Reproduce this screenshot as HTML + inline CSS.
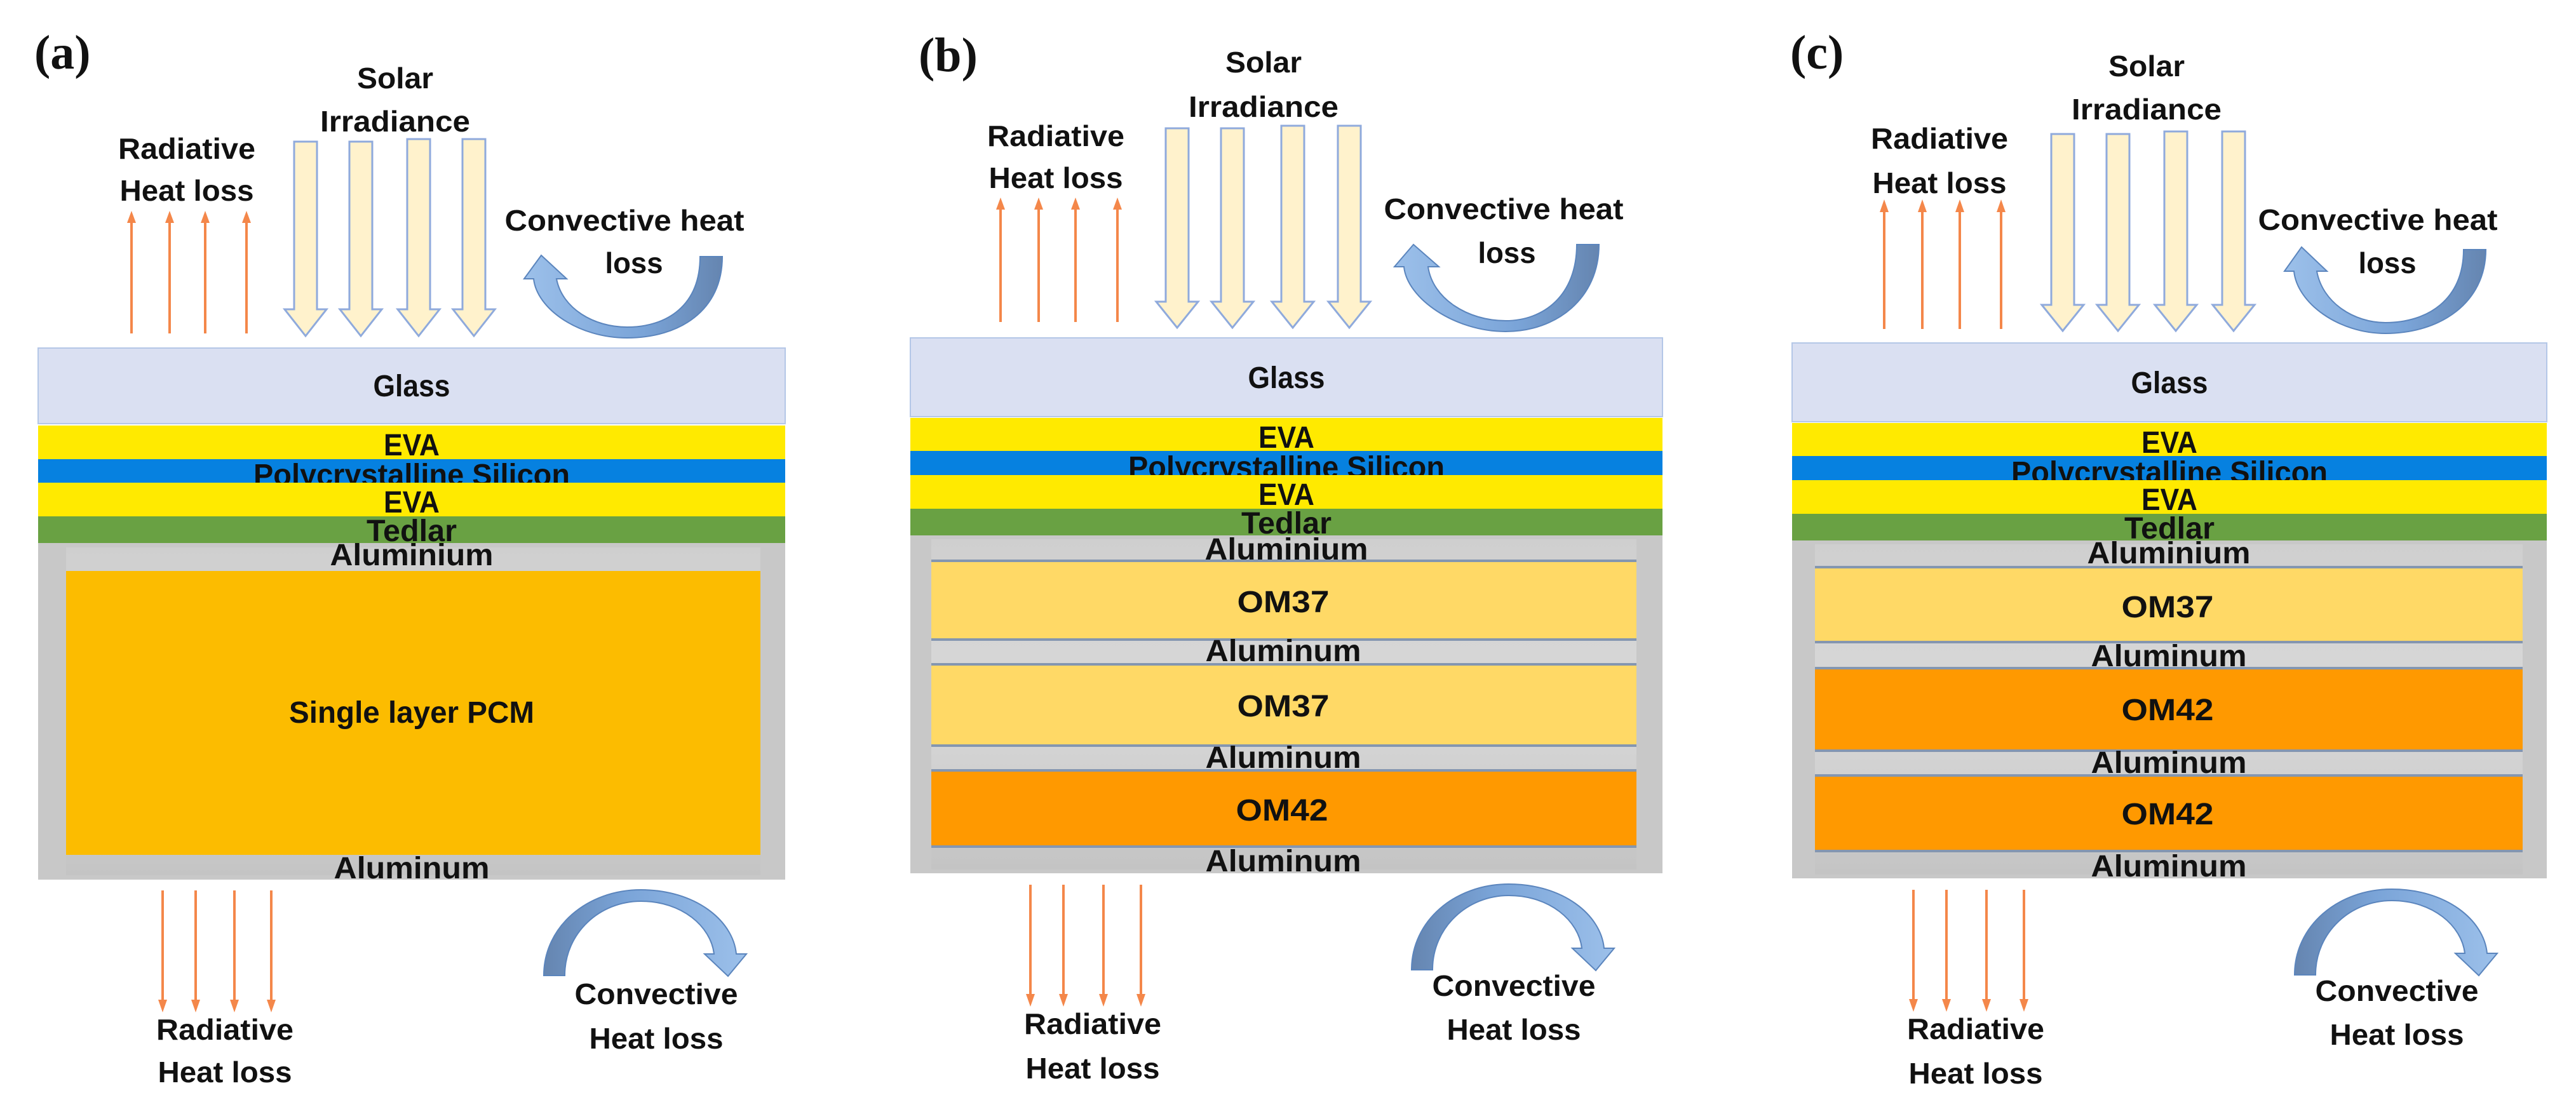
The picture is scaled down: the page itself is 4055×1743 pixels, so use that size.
<!DOCTYPE html>
<html><head><meta charset="utf-8"><style>
html,body{margin:0;padding:0;background:#fff}
svg{display:block}
text{font-family:"Liberation Sans Narrow","Liberation Sans",sans-serif;font-weight:bold;fill:#111}
.lab{font-size:46px}
.ly{font-size:48px}
.pl{font-family:"Liberation Serif",serif;font-size:76px;font-weight:bold}
.sep{stroke:#8496b0;stroke-width:4}
</style></head><body>
<svg width="4055" height="1743" viewBox="0 0 4055 1743" xmlns="http://www.w3.org/2000/svg">
<defs>
<linearGradient id="cu" x1="0" x2="1" y1="0" y2="0"><stop offset="0" stop-color="#9cc0ea"/><stop offset="0.6" stop-color="#7aa4d8"/><stop offset="1" stop-color="#6585b0"/></linearGradient>
<linearGradient id="cd" x1="0" x2="1" y1="0" y2="0"><stop offset="0" stop-color="#6585b0"/><stop offset="0.4" stop-color="#7aa4d8"/><stop offset="1" stop-color="#9cc0ea"/></linearGradient>
<linearGradient id="gr" x1="0" x2="0" y1="0" y2="1"><stop offset="0" stop-color="#cfcfcf"/><stop offset="0.5" stop-color="#d9d9d9"/><stop offset="1" stop-color="#c4c4c4"/></linearGradient>
</defs>

<g id="topb">
<text class="pl" x="1446" y="112">(b)</text>
<text class="lab" x="1989" y="114" text-anchor="middle" textLength="120" lengthAdjust="spacingAndGlyphs">Solar</text>
<text class="lab" x="1989" y="184" text-anchor="middle" textLength="236" lengthAdjust="spacingAndGlyphs">Irradiance</text>
<text class="lab" x="1662" y="230" text-anchor="middle" textLength="216" lengthAdjust="spacingAndGlyphs">Radiative</text>
<text class="lab" x="1662" y="296" text-anchor="middle" textLength="211" lengthAdjust="spacingAndGlyphs">Heat loss</text>
<text class="lab" x="2367" y="345" text-anchor="middle" textLength="377" lengthAdjust="spacingAndGlyphs">Convective heat</text>
<text class="lab" x="2372" y="414" text-anchor="middle" textLength="91" lengthAdjust="spacingAndGlyphs">loss</text>
<g stroke="#f4874a" stroke-width="4" fill="#f4874a">
<line x1="1575" y1="507" x2="1575" y2="325"/><polygon points="1568,330 1582,330 1575,311" stroke="none"/>
<line x1="1635" y1="507" x2="1635" y2="325"/><polygon points="1628,330 1642,330 1635,311" stroke="none"/>
<line x1="1693" y1="507" x2="1693" y2="325"/><polygon points="1686,330 1700,330 1693,311" stroke="none"/>
<line x1="1759" y1="507" x2="1759" y2="325"/><polygon points="1752,330 1766,330 1759,311" stroke="none"/>
</g>
<g fill="#fff2cc" stroke="#8faadc" stroke-width="3">
<polygon points="1835,202 1871,202 1871,475 1886,475 1853,516 1820,475 1835,475"/>
<polygon points="1922,202 1958,202 1958,475 1973,475 1940,516 1907,475 1922,475"/>
<polygon points="2017,198 2053,198 2053,475 2068,475 2035,516 2002,475 2017,475"/>
<polygon points="2106,198 2142,198 2142,475 2157,475 2124,516 2091,475 2106,475"/>
</g>
<path d="M2482,385 L2517,385 C2517,470 2450,522 2370,522 C2290,522 2215,470 2210,420 L2195,420 L2225,385 L2265,420 L2248,420 C2255,470 2310,505 2370,505 C2430,505 2482,465 2482,385 Z" fill="url(#cu)" stroke="#5b85bd" stroke-width="2"/>
</g>

<g id="botb">
<g stroke="#f4874a" stroke-width="4" fill="#f4874a">
<line x1="1622" y1="1393" x2="1622" y2="1570"/><polygon points="1615,1565 1629,1565 1622,1585" stroke="none"/>
<line x1="1674" y1="1393" x2="1674" y2="1570"/><polygon points="1667,1565 1681,1565 1674,1585" stroke="none"/>
<line x1="1737" y1="1393" x2="1737" y2="1570"/><polygon points="1730,1565 1744,1565 1737,1585" stroke="none"/>
<line x1="1796" y1="1393" x2="1796" y2="1570"/><polygon points="1789,1565 1803,1565 1796,1585" stroke="none"/>
</g>
<path d="M2222,1527 L2255,1527 C2255,1460 2310,1410 2375,1410 C2440,1410 2485,1450 2490,1493 L2475,1493 L2512,1528 L2541,1493 L2525,1493 C2520,1440 2460,1392 2375,1392 C2290,1392 2222,1450 2222,1527 Z" fill="url(#cd)" stroke="#5b85bd" stroke-width="2"/>
<text class="lab" x="1720" y="1628" text-anchor="middle" textLength="216" lengthAdjust="spacingAndGlyphs">Radiative</text>
<text class="lab" x="1720" y="1698" text-anchor="middle" textLength="211" lengthAdjust="spacingAndGlyphs">Heat loss</text>
<text class="lab" x="2383" y="1568" text-anchor="middle" textLength="257" lengthAdjust="spacingAndGlyphs">Convective</text>
<text class="lab" x="2383" y="1637" text-anchor="middle" textLength="211" lengthAdjust="spacingAndGlyphs">Heat loss</text>
</g>

<g transform="translate(-1370,21)">
<text class="pl" x="1424" y="87">(a)</text>
<text class="lab" x="1992" y="118" text-anchor="middle" textLength="120" lengthAdjust="spacingAndGlyphs">Solar</text>
<text class="lab" x="1992" y="186" text-anchor="middle" textLength="236" lengthAdjust="spacingAndGlyphs">Irradiance</text>
<text class="lab" x="1664" y="229" text-anchor="middle" textLength="216" lengthAdjust="spacingAndGlyphs">Radiative</text>
<text class="lab" x="1664" y="295" text-anchor="middle" textLength="211" lengthAdjust="spacingAndGlyphs">Heat loss</text>
<text class="lab" x="2353" y="342" text-anchor="middle" textLength="377" lengthAdjust="spacingAndGlyphs">Convective heat</text>
<text class="lab" x="2368" y="409" text-anchor="middle" textLength="91" lengthAdjust="spacingAndGlyphs">loss</text>
<g stroke="#f4874a" stroke-width="4" fill="#f4874a">
<line x1="1577" y1="504" x2="1577" y2="325"/><polygon points="1570,330 1584,330 1577,311" stroke="none"/>
<line x1="1637" y1="504" x2="1637" y2="325"/><polygon points="1630,330 1644,330 1637,311" stroke="none"/>
<line x1="1693" y1="504" x2="1693" y2="325"/><polygon points="1686,330 1700,330 1693,311" stroke="none"/>
<line x1="1758" y1="504" x2="1758" y2="325"/><polygon points="1751,330 1765,330 1758,311" stroke="none"/>
</g>
<g fill="#fff2cc" stroke="#8faadc" stroke-width="3">
<polygon points="1833,202 1869,202 1869,466 1884,466 1851,508 1818,466 1833,466"/>
<polygon points="1920,202 1956,202 1956,466 1971,466 1938,508 1905,466 1920,466"/>
<polygon points="2011,198 2047,198 2047,466 2062,466 2029,508 1996,466 2011,466"/>
<polygon points="2098,198 2134,198 2134,466 2149,466 2116,508 2083,466 2098,466"/>
</g>
<path d="M2472,383 L2507,383 C2507,468 2440,511 2357,511 C2280,511 2215,465 2210,418 L2195,418 L2222,381 L2262,418 L2246,418 C2255,465 2305,494 2357,494 C2420,494 2472,460 2472,383 Z" fill="url(#cu)" stroke="#5b85bd" stroke-width="2"/>
</g>

<g transform="translate(-1366,9)">
<g stroke="#f4874a" stroke-width="4" fill="#f4874a">
<line x1="1622" y1="1393" x2="1622" y2="1570"/><polygon points="1615,1565 1629,1565 1622,1585" stroke="none"/>
<line x1="1674" y1="1393" x2="1674" y2="1570"/><polygon points="1667,1565 1681,1565 1674,1585" stroke="none"/>
<line x1="1735" y1="1393" x2="1735" y2="1570"/><polygon points="1728,1565 1742,1565 1735,1585" stroke="none"/>
<line x1="1793" y1="1393" x2="1793" y2="1570"/><polygon points="1786,1565 1800,1565 1793,1585" stroke="none"/>
</g>
<path d="M2222,1527 L2255,1527 C2255,1460 2310,1410 2375,1410 C2440,1410 2485,1450 2490,1493 L2475,1493 L2512,1528 L2541,1493 L2525,1493 C2520,1440 2460,1392 2375,1392 C2290,1392 2222,1450 2222,1527 Z" fill="url(#cd)" stroke="#5b85bd" stroke-width="2"/>
<text class="lab" x="1720" y="1628" text-anchor="middle" textLength="216" lengthAdjust="spacingAndGlyphs">Radiative</text>
<text class="lab" x="1720" y="1695" text-anchor="middle" textLength="211" lengthAdjust="spacingAndGlyphs">Heat loss</text>
<text class="lab" x="2399" y="1572" text-anchor="middle" textLength="257" lengthAdjust="spacingAndGlyphs">Convective</text>
<text class="lab" x="2399" y="1642" text-anchor="middle" textLength="211" lengthAdjust="spacingAndGlyphs">Heat loss</text>
</g>

<g transform="translate(1391,7)">
<text class="pl" x="1427" y="101">(c)</text>
<text class="lab" x="1988" y="113" text-anchor="middle" textLength="120" lengthAdjust="spacingAndGlyphs">Solar</text>
<text class="lab" x="1988" y="181" text-anchor="middle" textLength="236" lengthAdjust="spacingAndGlyphs">Irradiance</text>
<text class="lab" x="1662" y="227" text-anchor="middle" textLength="216" lengthAdjust="spacingAndGlyphs">Radiative</text>
<text class="lab" x="1662" y="297" text-anchor="middle" textLength="211" lengthAdjust="spacingAndGlyphs">Heat loss</text>
<text class="lab" x="2352" y="355" text-anchor="middle" textLength="377" lengthAdjust="spacingAndGlyphs">Convective heat</text>
<text class="lab" x="2367" y="423" text-anchor="middle" textLength="91" lengthAdjust="spacingAndGlyphs">loss</text>
<g stroke="#f4874a" stroke-width="4" fill="#f4874a">
<line x1="1575" y1="511" x2="1575" y2="322"/><polygon points="1568,327 1582,327 1575,307" stroke="none"/>
<line x1="1635" y1="511" x2="1635" y2="322"/><polygon points="1628,327 1642,327 1635,307" stroke="none"/>
<line x1="1694" y1="511" x2="1694" y2="322"/><polygon points="1687,327 1701,327 1694,307" stroke="none"/>
<line x1="1759" y1="511" x2="1759" y2="322"/><polygon points="1752,327 1766,327 1759,307" stroke="none"/>
</g>
<g fill="#fff2cc" stroke="#8faadc" stroke-width="3">
<polygon points="1838,204 1874,204 1874,473 1889,473 1856,514 1823,473 1838,473"/>
<polygon points="1925,204 1961,204 1961,473 1976,473 1943,514 1910,473 1925,473"/>
<polygon points="2016,200 2052,200 2052,473 2067,473 2034,514 2001,473 2016,473"/>
<polygon points="2107,200 2143,200 2143,473 2158,473 2125,514 2092,473 2107,473"/>
</g>
<path d="M2487,386 L2522,386 C2522,470 2450,518 2364,518 C2290,518 2225,470 2220,420 L2205,420 L2232,382 L2272,420 L2256,420 C2265,470 2315,501 2364,501 C2430,501 2487,465 2487,386 Z" fill="url(#cu)" stroke="#5b85bd" stroke-width="2"/>
</g>

<g transform="translate(1390,8)">
<g stroke="#f4874a" stroke-width="4" fill="#f4874a">
<line x1="1622" y1="1393" x2="1622" y2="1570"/><polygon points="1615,1565 1629,1565 1622,1585" stroke="none"/>
<line x1="1674" y1="1393" x2="1674" y2="1570"/><polygon points="1667,1565 1681,1565 1674,1585" stroke="none"/>
<line x1="1737" y1="1393" x2="1737" y2="1570"/><polygon points="1730,1565 1744,1565 1737,1585" stroke="none"/>
<line x1="1796" y1="1393" x2="1796" y2="1570"/><polygon points="1789,1565 1803,1565 1796,1585" stroke="none"/>
</g>
<path d="M2222,1527 L2255,1527 C2255,1460 2310,1410 2375,1410 C2440,1410 2485,1450 2490,1493 L2475,1493 L2512,1528 L2541,1493 L2525,1493 C2520,1440 2460,1392 2375,1392 C2290,1392 2222,1450 2222,1527 Z" fill="url(#cd)" stroke="#5b85bd" stroke-width="2"/>
<text class="lab" x="1720" y="1628" text-anchor="middle" textLength="216" lengthAdjust="spacingAndGlyphs">Radiative</text>
<text class="lab" x="1720" y="1698" text-anchor="middle" textLength="211" lengthAdjust="spacingAndGlyphs">Heat loss</text>
<text class="lab" x="2383" y="1568" text-anchor="middle" textLength="257" lengthAdjust="spacingAndGlyphs">Convective</text>
<text class="lab" x="2383" y="1637" text-anchor="middle" textLength="211" lengthAdjust="spacingAndGlyphs">Heat loss</text>
</g>

<!-- STACK A -->
<rect x="60" y="548" width="1176" height="119" fill="#dae0f2" stroke="#b4c7e7" stroke-width="2"/>
<text class="ly" x="648" y="624" text-anchor="middle" textLength="121" lengthAdjust="spacingAndGlyphs">Glass</text>
<rect x="60" y="670" width="1176" height="53" fill="#ffea00"/>
<text class="ly" x="648" y="717" text-anchor="middle" textLength="88" lengthAdjust="spacingAndGlyphs">EVA</text>
<rect x="60" y="723" width="1176" height="37" fill="#0681e0"/>
<text class="ly" x="648" y="764" text-anchor="middle" textLength="498" lengthAdjust="spacingAndGlyphs">Polycrystalline Silicon</text>
<rect x="60" y="760" width="1176" height="53" fill="#ffea00"/>
<text class="ly" x="648" y="807" text-anchor="middle" textLength="88" lengthAdjust="spacingAndGlyphs">EVA</text>
<rect x="60" y="813" width="1176" height="42" fill="#69a143"/>
<text class="ly" x="648" y="852" text-anchor="middle" textLength="142" lengthAdjust="spacingAndGlyphs">Tedlar</text>
<rect x="60" y="855" width="1176" height="530" fill="#c8c8c8"/>
<rect x="104" y="862" width="1093" height="516" fill="url(#gr)"/>
<text class="ly" x="648" y="890" text-anchor="middle" textLength="257" lengthAdjust="spacingAndGlyphs">Aluminium</text>
<rect x="104" y="899" width="1093" height="447" fill="#fcbc00"/>
<text class="ly" x="648" y="1138" text-anchor="middle" textLength="386" lengthAdjust="spacingAndGlyphs">Single layer PCM</text>
<text class="ly" x="648" y="1383" text-anchor="middle" textLength="245" lengthAdjust="spacingAndGlyphs">Aluminum</text>

<!-- STACK B -->
<rect x="1433" y="532" width="1184" height="124" fill="#dae0f2" stroke="#b4c7e7" stroke-width="2"/>
<text class="ly" x="2025" y="611" text-anchor="middle" textLength="121" lengthAdjust="spacingAndGlyphs">Glass</text>
<rect x="1433" y="658" width="1184" height="52" fill="#ffea00"/>
<text class="ly" x="2025" y="705" text-anchor="middle" textLength="88" lengthAdjust="spacingAndGlyphs">EVA</text>
<rect x="1433" y="710" width="1184" height="38" fill="#0681e0"/>
<text class="ly" x="2025" y="752" text-anchor="middle" textLength="498" lengthAdjust="spacingAndGlyphs">Polycrystalline Silicon</text>
<rect x="1433" y="748" width="1184" height="53" fill="#ffea00"/>
<text class="ly" x="2025" y="795" text-anchor="middle" textLength="88" lengthAdjust="spacingAndGlyphs">EVA</text>
<rect x="1433" y="801" width="1184" height="42" fill="#69a143"/>
<text class="ly" x="2025" y="840" text-anchor="middle" textLength="142" lengthAdjust="spacingAndGlyphs">Tedlar</text>
<rect x="1433" y="843" width="1184" height="532" fill="#c8c8c8"/>
<rect x="1466" y="849" width="1110" height="520" fill="url(#gr)"/>
<text class="ly" x="2025" y="881" text-anchor="middle" textLength="257" lengthAdjust="spacingAndGlyphs">Aluminium</text>
<rect x="1466" y="883" width="1110" height="124" fill="#ffd966"/>
<line class="sep" x1="1466" y1="883" x2="2576" y2="883"/><line class="sep" x1="1466" y1="1007" x2="2576" y2="1007"/>
<text class="ly" x="2020" y="964" text-anchor="middle" textLength="145" lengthAdjust="spacingAndGlyphs">OM37</text>
<text class="ly" x="2020" y="1041" text-anchor="middle" textLength="245" lengthAdjust="spacingAndGlyphs">Aluminum</text>
<rect x="1466" y="1046" width="1110" height="128" fill="#ffd966"/>
<line class="sep" x1="1466" y1="1046" x2="2576" y2="1046"/><line class="sep" x1="1466" y1="1174" x2="2576" y2="1174"/>
<text class="ly" x="2020" y="1128" text-anchor="middle" textLength="145" lengthAdjust="spacingAndGlyphs">OM37</text>
<text class="ly" x="2020" y="1209" text-anchor="middle" textLength="245" lengthAdjust="spacingAndGlyphs">Aluminum</text>
<rect x="1466" y="1213" width="1110" height="120" fill="#ff9900"/>
<line class="sep" x1="1466" y1="1213" x2="2576" y2="1213"/><line class="sep" x1="1466" y1="1333" x2="2576" y2="1333"/>
<text class="ly" x="2018" y="1292" text-anchor="middle" textLength="145" lengthAdjust="spacingAndGlyphs">OM42</text>
<text class="ly" x="2020" y="1372" text-anchor="middle" textLength="245" lengthAdjust="spacingAndGlyphs">Aluminum</text>

<!-- STACK C -->
<rect x="2821" y="540" width="1188" height="124" fill="#dae0f2" stroke="#b4c7e7" stroke-width="2"/>
<text class="ly" x="3415" y="619" text-anchor="middle" textLength="121" lengthAdjust="spacingAndGlyphs">Glass</text>
<rect x="2821" y="666" width="1188" height="52" fill="#ffea00"/>
<text class="ly" x="3415" y="713" text-anchor="middle" textLength="88" lengthAdjust="spacingAndGlyphs">EVA</text>
<rect x="2821" y="718" width="1188" height="38" fill="#0681e0"/>
<text class="ly" x="3415" y="760" text-anchor="middle" textLength="498" lengthAdjust="spacingAndGlyphs">Polycrystalline Silicon</text>
<rect x="2821" y="756" width="1188" height="53" fill="#ffea00"/>
<text class="ly" x="3415" y="803" text-anchor="middle" textLength="88" lengthAdjust="spacingAndGlyphs">EVA</text>
<rect x="2821" y="809" width="1188" height="42" fill="#69a143"/>
<text class="ly" x="3415" y="848" text-anchor="middle" textLength="142" lengthAdjust="spacingAndGlyphs">Tedlar</text>
<rect x="2821" y="851" width="1188" height="532" fill="#c8c8c8"/>
<rect x="2857" y="857" width="1114" height="520" fill="url(#gr)"/>
<text class="ly" x="3414" y="887" text-anchor="middle" textLength="257" lengthAdjust="spacingAndGlyphs">Aluminium</text>
<rect x="2857" y="893" width="1114" height="118" fill="#ffd966"/>
<line class="sep" x1="2857" y1="893" x2="3971" y2="893"/><line class="sep" x1="2857" y1="1011" x2="3971" y2="1011"/>
<text class="ly" x="3412" y="972" text-anchor="middle" textLength="145" lengthAdjust="spacingAndGlyphs">OM37</text>
<text class="ly" x="3414" y="1049" text-anchor="middle" textLength="245" lengthAdjust="spacingAndGlyphs">Aluminum</text>
<rect x="2857" y="1052" width="1114" height="130" fill="#ff9900"/>
<line class="sep" x1="2857" y1="1052" x2="3971" y2="1052"/><line class="sep" x1="2857" y1="1182" x2="3971" y2="1182"/>
<text class="ly" x="3412" y="1134" text-anchor="middle" textLength="145" lengthAdjust="spacingAndGlyphs">OM42</text>
<text class="ly" x="3414" y="1217" text-anchor="middle" textLength="245" lengthAdjust="spacingAndGlyphs">Aluminum</text>
<rect x="2857" y="1221" width="1114" height="119" fill="#ff9900"/>
<line class="sep" x1="2857" y1="1221" x2="3971" y2="1221"/><line class="sep" x1="2857" y1="1340" x2="3971" y2="1340"/>
<text class="ly" x="3412" y="1298" text-anchor="middle" textLength="145" lengthAdjust="spacingAndGlyphs">OM42</text>
<text class="ly" x="3414" y="1380" text-anchor="middle" textLength="245" lengthAdjust="spacingAndGlyphs">Aluminum</text>
</svg>
</body></html>
